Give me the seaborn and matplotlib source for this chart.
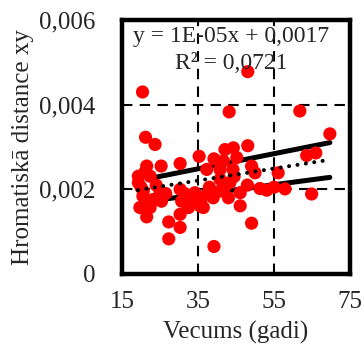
import numpy as np
import pandas as pd
import matplotlib
matplotlib.use("Agg")
import matplotlib.pyplot as plt
import seaborn as sns

# Data (age in years, chromatic distance xy)
age = [48.1, 20.4, 43.2, 61.8, 69.7, 21.2, 23.7, 35.3, 30.3, 21.5,
       25.3, 39.2, 42.1, 44.3, 45.2, 48.1, 41.7, 63.6, 66.0, 37.3,
       40.8, 44.2, 49.1, 50.0, 56.1, 19.3, 19.3, 22.4, 20.6, 25.0,
       23.2, 25.4, 19.7, 22.4, 21.5, 30.3, 30.7, 32.5, 30.3, 34.2,
       36.0, 36.4, 39.0, 40.8, 43.0, 46.1, 46.1, 51.3, 53.1, 55.0,
       57.9, 64.9, 49.1, 27.3, 30.3, 27.3, 39.2, 40.8, 43.4, 20.5,
       22.4, 35.5, 21.0, 33.0, 38.0, 42.0, 44.5, 26.5, 24.0, 31.5,
       37.5, 20.0, 48.0]
dist = [0.00478, 0.00430, 0.00383, 0.00385, 0.00331, 0.00323, 0.00306, 0.00278, 0.00261, 0.00255,
        0.00255, 0.00272, 0.00294, 0.00298, 0.00275, 0.00303, 0.00267, 0.00280, 0.00286, 0.00247,
        0.00247, 0.00247, 0.00255, 0.00239, 0.00239, 0.00231, 0.00216, 0.00231, 0.00196, 0.00196,
        0.00176, 0.00172, 0.00157, 0.00157, 0.00135, 0.00200, 0.00172, 0.00157, 0.00141, 0.00192,
        0.00180, 0.00157, 0.00180, 0.00196, 0.00180, 0.00192, 0.00161, 0.00202, 0.00198, 0.00205,
        0.00201, 0.00189, 0.00120, 0.00123, 0.00110, 0.00083, 0.00065, 0.00224, 0.00216, 0.00184,
        0.00165, 0.00161, 0.00240, 0.00175, 0.00205, 0.00205, 0.00230, 0.00190, 0.00210, 0.00190,
        0.00190, 0.00205, 0.00210]

# Lines: (x_start, x_end, slope, intercept)
trend = (19.2, 69.2, 1.42e-5, 0.00171)        # dotted linear trend
upper_line = (22.0, 69.7, 1.785e-5, 0.00186)  # solid upper
lower_line = (20.5, 69.7, 1.18e-5, 0.00146)   # solid lower

x_ticks = [15, 35, 55, 75]
y_ticks = [0, 0.002, 0.004, 0.006]
y_tick_labels = ["0", "0,002", "0,004", "0,006"]
eq_text = "y = 1E-05x + 0,0017"
r2_text = "R² = 0,0721"

sns.set_style("white")
plt.rcParams['font.family'] = ['Liberation Serif', 'DejaVu Serif']

fig = plt.figure(figsize=(3.64, 3.57), dpi=100)
ax = fig.add_axes([122/364, 1 - 274/357, 228/364, 254/357])

def line_df(spec):
    x0, x1, m, b = spec
    xs = [x0, x1]
    return pd.DataFrame({"x": xs, "y": [m * v + b for v in xs]})

for spec in (upper_line, lower_line):
    sns.lineplot(data=line_df(spec), x="x", y="y", ax=ax, color="black",
                 linewidth=3.6, solid_capstyle="round", zorder=2)

df = pd.DataFrame({"age": age, "dist": dist})
sns.scatterplot(data=df, x="age", y="dist", ax=ax, color="#ff0000", s=90,
                edgecolor="none", linewidth=0, zorder=3)

sns.lineplot(data=line_df(trend), x="x", y="y", ax=ax, color="black",
             linewidth=2.9, linestyle=(0, (0.01, 2.1)), dash_capstyle="round", zorder=4)

ax.set_xlim(15, 75)
ax.set_ylim(0, 0.006)
ax.set_xticks(x_ticks)
ax.set_xticklabels([str(v) for v in x_ticks])
ax.set_yticks(y_ticks)
ax.set_yticklabels(y_tick_labels)
ax.tick_params(axis="both", length=0, labelsize=18)
ax.tick_params(axis="x", pad=12)
ax.tick_params(axis="y", pad=19)

for v in [35, 55]:
    ax.axvline(v, color="black", linewidth=1.5, linestyle=(0, (5, 3.5)), zorder=1)
for v in [0.002, 0.004]:
    ax.axhline(v, color="black", linewidth=1.5, linestyle=(0, (5, 3.5)), zorder=1)

for s in ax.spines.values():
    s.set_color("black")
    s.set_linewidth(3.2)
    s.set_visible(True)

ax.set_xlabel("Vecums (gadi)", fontsize=18, labelpad=6)
ax.set_ylabel("Hromatiskā distance xy", fontsize=18, labelpad=4)

ax.text(0.48, 0.935, eq_text, transform=ax.transAxes, ha="center", va="center",
        fontsize=17, zorder=5)
ax.text(0.48, 0.83, r2_text, transform=ax.transAxes, ha="center", va="center",
        fontsize=17, zorder=5)

fig.savefig("out.png", dpi=100)
